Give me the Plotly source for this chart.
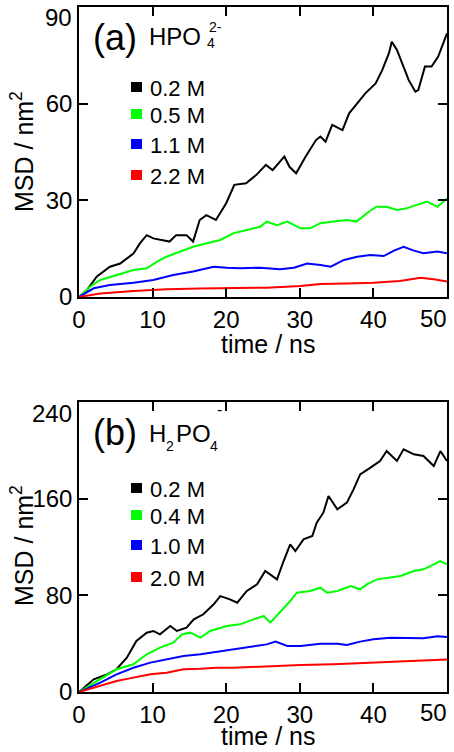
import plotly.graph_objects as go

W, H = 454, 752

# ---------------- Data: panel (a) HPO4^2- ----------------
a_black_t = [0, 1.1, 2.4, 4.2, 5.6, 7.4, 8.3, 9.2, 10.1, 11.4, 12.3, 13.2, 14.6, 15.5, 16.4, 17.3, 18.6,
             20.0, 21.1, 22.7, 24.1, 25.4, 26.3, 27.9, 28.6, 29.5, 30.8, 32.2, 32.8, 33.5, 34.4, 35.8,
             36.7, 37.8, 38.9, 40.3, 41.2, 42.1, 42.5, 43.2, 44.1, 44.8, 45.7, 46.1, 47.0, 47.9, 48.8, 50.0]
a_black_v = [0, 2.2, 6.3, 9.4, 10.4, 13.5, 16.7, 19.2, 18.2, 17.7, 17.2, 19.2, 19.2, 17.2, 23.9, 25.4, 23.9,
             29.1, 34.8, 35.3, 37.9, 41.0, 39.4, 43.6, 40.4, 38.4, 43.6, 48.7, 49.8, 48.2, 53.4, 51.8,
             57.0, 60.1, 63.2, 66.3, 70.4, 75.6, 79.2, 76.7, 71.5, 67.3, 63.7, 64.2, 71.5, 71.5, 74.6, 81.8]

a_green_t = [0, 1.5, 2.9, 5.1, 7.4, 9.2, 10.6, 11.9, 13.7, 15.5, 17.4, 19.2, 21.0, 22.8, 24.6, 25.5, 26.9,
             28.3, 30.1, 31.4, 32.8, 34.6, 36.4, 37.7, 39.1, 40.4, 41.8, 43.2, 44.5, 45.9, 47.3, 48.7, 50.0]
a_green_v = [0, 3.2, 5.3, 6.8, 8.4, 8.9, 11.0, 12.5, 14.1, 15.6, 16.7, 17.7, 19.8, 20.8, 21.8, 23.4, 22.3,
             23.4, 21.3, 21.3, 22.9, 23.4, 23.9, 23.4, 26.0, 28.0, 28.0, 27.0, 27.5, 28.6, 29.6, 28.0, 30.6]

a_blue_t = [0, 2.0, 4.2, 7.4, 10.1, 12.8, 15.5, 18.3, 20.1, 21.9, 24.6, 27.3, 29.2, 31.0, 32.8, 34.2, 36.0,
            37.8, 39.6, 41.4, 42.8, 44.1, 45.5, 46.8, 48.7, 50.0]
a_blue_v = [0, 2.7, 3.7, 4.4, 5.3, 6.8, 7.9, 9.4, 9.1, 8.9, 9.1, 8.6, 9.1, 10.4, 9.9, 9.4, 11.5,
            12.5, 13.0, 12.7, 14.4, 15.6, 14.4, 13.6, 14.1, 13.6]

a_red_t = [0, 2.9, 7.4, 11.9, 16.4, 21.0, 25.5, 30.1, 32.8, 36.4, 40.0, 43.6, 46.4, 48.2, 50.0]
a_red_v = [0, 1.1, 1.9, 2.4, 2.6, 2.8, 2.9, 3.4, 4.0, 4.2, 4.4, 5.0, 6.0, 5.5, 4.8]

# ---------------- Data: panel (b) H2PO4^- ----------------
b_black_t = [0, 2.0, 3.8, 5.1, 6.5, 7.8, 9.2, 10.1, 11.0, 12.4, 13.3, 14.6, 15.6, 16.9, 18.3, 19.2, 20.5,
             21.5, 22.8, 24.2, 25.3, 26.9, 27.8, 28.7, 29.4, 30.5, 31.7, 32.3, 33.2, 33.9, 35.1, 36.4,
             37.3, 38.2, 39.6, 40.9, 41.8, 43.2, 44.1, 45.5, 46.8, 48.2, 49.1, 50.0]
b_black_v = [0, 10.5, 14.6, 18.8, 28.4, 42.2, 49.1, 50.5, 47.7, 54.6, 50.5, 53.2, 60.1, 64.3, 72.6, 79.4, 76.7,
             73.9, 83.6, 89.1, 100.1, 93.2, 108.4, 122.2, 116.7, 126.3, 129.1, 140.1, 148.4, 162.2, 151.2, 156.7,
             167.7, 180.1, 185.7, 191.2, 199.4, 191.2, 200.8, 196.7, 195.3, 187.0, 199.4, 191.2]

b_green_t = [0, 2.9, 5.1, 7.4, 9.2, 11.0, 12.8, 14.0, 15.1, 16.5, 17.8, 20.1, 21.9, 23.7, 25.1, 26.0, 27.3,
             28.7, 29.6, 31.4, 32.8, 33.7, 35.1, 36.9, 38.2, 39.1, 40.5, 42.3, 43.7, 45.5, 46.8, 48.2, 49.1, 50.0]
b_green_v = [0, 10.5, 18.8, 22.9, 31.2, 36.7, 40.8, 47.7, 49.1, 45.0, 50.5, 54.6, 56.0, 60.1, 62.9, 57.4, 65.7,
             75.3, 82.2, 83.6, 86.3, 82.2, 83.6, 87.7, 85.0, 89.1, 93.2, 94.6, 96.0, 100.1, 101.5, 105.7, 108.4, 105.7]

b_blue_t = [0, 2.9, 5.1, 7.4, 9.7, 11.9, 14.2, 16.5, 18.7, 21.0, 23.3, 25.5, 26.7, 28.3, 30.1, 32.8, 35.1,
            36.4, 38.2, 40.0, 42.3, 44.6, 46.8, 48.7, 50.0]
b_blue_v = [0, 7.7, 14.6, 20.1, 24.3, 27.0, 29.8, 31.2, 33.1, 35.3, 37.2, 39.4, 41.7, 38.1, 38.1, 40.0, 40.0,
            38.9, 41.7, 43.6, 45.0, 45.0, 44.4, 46.1, 45.5]

b_red_t = [0, 2.9, 5.1, 7.4, 9.7, 11.9, 14.2, 16.5, 18.7, 21.0, 23.3, 25.5, 27.8, 30.1, 34.6, 39.1, 43.7, 48.2, 50.0]
b_red_v = [0, 5.0, 9.1, 11.9, 14.6, 16.0, 18.8, 19.3, 20.1, 20.1, 20.7, 21.2, 22.1, 22.3, 22.9, 24.0, 25.1, 26.2, 26.8]

colors = ["#000000", "#00ff00", "#0000ff", "#ff0000"]
a_labels = ["0.2 M", "0.5 M", "1.1 M", "2.2 M"]
b_labels = ["0.2 M", "0.4 M", "1.0 M", "2.0 M"]
x_ticks = [0, 10, 20, 30, 40, 50]
a_yticks = [0, 30, 60, 90]
b_yticks = [0, 80, 160, 240]

FONT = "Liberation Sans, Arial, sans-serif"

fig = go.Figure()
a_series = [(a_black_t, a_black_v), (a_green_t, a_green_v), (a_blue_t, a_blue_v), (a_red_t, a_red_v)]
b_series = [(b_black_t, b_black_v), (b_green_t, b_green_v), (b_blue_t, b_blue_v), (b_red_t, b_red_v)]
for (t, v), c, lab in zip(a_series, colors, a_labels):
    fig.add_trace(go.Scatter(x=t, y=v, mode="lines", line=dict(color=c, width=2), name=lab,
                             showlegend=False, hoverinfo="skip", xaxis="x", yaxis="y"))
for (t, v), c, lab in zip(b_series, colors, b_labels):
    fig.add_trace(go.Scatter(x=t, y=v, mode="lines", line=dict(color=c, width=2), name=lab,
                             showlegend=False, hoverinfo="skip", xaxis="x2", yaxis="y2"))

def px(x):
    return x / W

def py(y):
    return 1 - y / H

ax_common = dict(showline=True, linecolor="black", linewidth=1.5, mirror="ticks", ticks="inside",
                 ticklen=9, tickwidth=1.5, tickcolor="black", showgrid=False, zeroline=False,
                 automargin=False, ticklabeloverflow="allow",
                 tickfont=dict(family=FONT, size=24, color="black"))

# the outermost labels (50 on x, top value on y) are drawn inset, as in the original figure
x_ticktext = [str(v) for v in x_ticks[:-1]] + [""]
a_yticktext = [str(v) for v in a_yticks[:-1]] + [""]
b_yticktext = [str(v) for v in b_yticks[:-1]] + [""]

fig.update_layout(
    width=W, height=H, margin=dict(l=0, r=0, t=0, b=0, pad=0, autoexpand=False),
    paper_bgcolor="white", plot_bgcolor="white",
    xaxis=dict(domain=[px(79), px(447)], range=[0, 50], tickvals=x_ticks, ticktext=x_ticktext,
               anchor="y", **ax_common),
    yaxis=dict(domain=[py(297), py(7)], range=[0, 90], tickvals=a_yticks, ticktext=a_yticktext,
               anchor="x", **ax_common),
    xaxis2=dict(domain=[px(79), px(447)], range=[0, 50], tickvals=x_ticks, ticktext=x_ticktext,
                anchor="y2", **ax_common),
    yaxis2=dict(domain=[py(692), py(402)], range=[0, 240], tickvals=b_yticks, ticktext=b_yticktext,
                anchor="x2", **ax_common),
)

ann = []
def text(x, y, s, size, xanchor="center", yanchor="middle", color="black", angle=0):
    ann.append(dict(x=px(x), y=py(y), xref="paper", yref="paper", text=s, showarrow=False,
                    xanchor=xanchor, yanchor=yanchor, textangle=angle,
                    font=dict(family=FONT, size=size, color=color)))

# inset end labels
text(449, 318, str(x_ticks[-1]), 24, xanchor="right")
text(449, 712, str(x_ticks[-1]), 24, xanchor="right")
text(74, 17, str(a_yticks[-1]), 24, xanchor="right")
text(74, 413, str(b_yticks[-1]), 24, xanchor="right")

# axis titles
text(268, 344, "time / ns", 25)
text(268, 736, "time / ns", 25)
text(22, 152, "MSD / nm<sup>2</sup>", 25, angle=-90)
text(22, 546, "MSD / nm<sup>2</sup>", 25, angle=-90)

# panel labels
text(115, 38, "(a)", 36)
text(147, 37, "HPO", 24, xanchor="left")
text(215, 27, "2-", 14)
text(211, 43, "4", 14)

text(115, 432, "(b)", 36)
text(147, 433, "H", 24, xanchor="left")
text(170, 446, "2", 14)
text(174, 433, "PO", 24, xanchor="left")
text(214, 446, "4", 14)
text(219, 409, "-", 16)

shapes = []
a_rows = [87, 114, 144, 175]
b_rows = [488, 515, 545, 577]
for rows, labs in ((a_rows, a_labels), (b_rows, b_labels)):
    for yy, c, lab in zip(rows, colors, labs):
        shapes.append(dict(type="rect", xref="paper", yref="paper", x0=px(131), x1=px(142),
                           y0=py(yy + 5), y1=py(yy - 5), fillcolor=c, line=dict(width=0)))
        text(148, yy + 1, lab, 22, xanchor="left")

fig.update_layout(annotations=ann, shapes=shapes)
fig.write_html("out.html", config={"displayModeBar": False},
               post_script="document.body.style.margin='0px';")
